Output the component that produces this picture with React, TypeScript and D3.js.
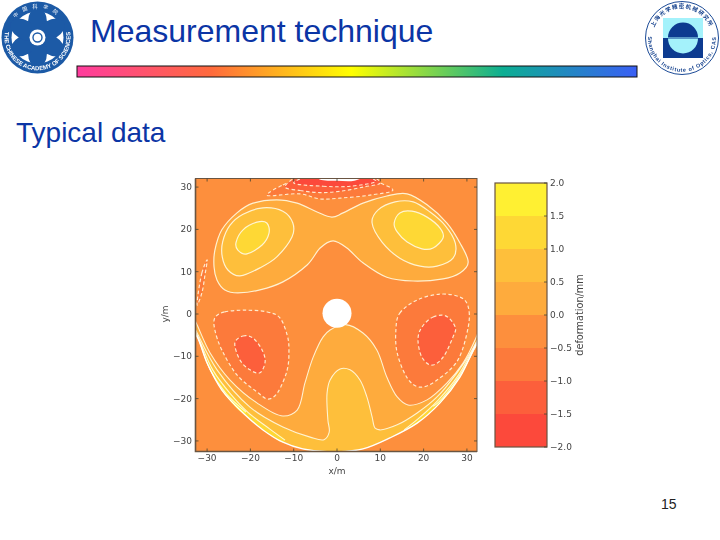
import React from 'react';
import * as d3 from 'd3';

type Pt = [number, number];

// colour bar levels, low to high
const levels = [-2, -1.5, -1, -0.5, 0, 0.5, 1, 1.5, 2];
const bandColors = ['#fc4a3a', '#fc5f3a', '#fc7a3a', '#fd8f3c', '#feab3c', '#febf3a', '#fed835', '#fff030'];
const axisTicks = [-30, -20, -10, 0, 10, 20, 30];
const barTicks = ['-2.0', '-1.5', '-1.0', '-0.5', '0.0', '0.5', '1.0', '1.5', '2.0'];

// contours in data units (metres)
const upperZero: Pt[] = [[-28.4, 11.1], [-27.7, 8], [-25.9, 5.7], [-22.9, 5], [-17.8, 5.7], [-12.5, 7.6], [-6.9, 11.6], [-3.9, 15.6], [-0.9, 17.3], [2.3, 15.6], [6, 12.1], [11.5, 8.7], [17.6, 7.8], [24.5, 8.3], [28.4, 9.7], [30.3, 12.3], [28.4, 16.8], [25.4, 21.5], [20.8, 25.8], [16.2, 28.4], [11.5, 27.9], [6, 26.2], [1.4, 23.9], [-1.2, 22.9], [-4.6, 24.1], [-9.2, 26.2], [-13.9, 27], [-19.4, 26.2], [-23.1, 23.9], [-26.6, 19.9], [-28.2, 15.1]];
const leftHalf: Pt[] = [[-26.5, 13.5], [-26.4, 17.1], [-24.7, 21], [-21.7, 23.6], [-17.1, 25.1], [-12.5, 24.3], [-10.2, 21.5], [-10.4, 18.2], [-13.9, 13.5], [-17.8, 10.9], [-22.4, 9], [-25.2, 10.4]];
const leftOne: Pt[] = [[-23.3, 17], [-21.7, 19.9], [-18.5, 21.7], [-16.2, 21.5], [-15.7, 19.1], [-17.3, 16.3], [-20.8, 14.2], [-22.9, 15.1]];
const rightHalf: Pt[] = [[8.1, 21.5], [9.5, 24.6], [13.4, 26.5], [17.6, 26.5], [21.5, 24.1], [24.9, 21], [27.3, 16.8], [26.8, 13.2], [23.1, 11.3], [19.2, 11.3], [14.5, 13.2], [10.4, 17]];
const rightOne: Pt[] = [[13.2, 21.5], [14.5, 23.9], [17.3, 24.3], [20.8, 22.9], [23.8, 20.3], [24.5, 18], [22.2, 15.6], [19.6, 15.4], [16.2, 17], [13.9, 19.4]];

const lowerZero: Pt[] = [[-33.5, 0], [-32.3, -2.6], [-29.3, -9.2], [-24.7, -15.6], [-18.5, -21], [-12.5, -24.1], [-9.2, -22.7], [-7.4, -16.3], [-5.5, -10.2], [-3.2, -5.4], [-1.6, -3.8], [2, -2.5], [6, -4.5], [9.2, -8.5], [11.5, -14.9], [13.9, -19.6], [16.4, -21.5], [20.8, -20.3], [25.4, -16.3], [29.1, -11.6], [31.9, -6.1], [33.2, -2.5]];
const lowerHalf: Pt[] = [[-33.5, -2], [-32.3, -4.5], [-27.7, -13.2], [-20.1, -22], [-12.5, -26.7], [-6.2, -29.1], [-3, -29.7], [-1.8, -27.9], [-2.1, -25.1], [-2.3, -18.7], [-1.6, -15.6], [0.7, -13], [3, -13.2], [5.3, -15.6], [6.9, -19.6], [8.1, -24.3], [8.8, -27], [9.9, -27.4], [13.9, -26.2], [18.5, -23.4], [23.1, -19.6], [27.7, -13.9], [31.2, -8.5], [33.2, -4.5]];
const oneLeft: Pt[] = [[-33.5, -3], [-32.3, -5], [-28.7, -13.2], [-24.5, -19], [-20.5, -23.3], [-15.5, -27.2], [-12, -29.8]];
const oneRight: Pt[] = [[15.5, -27.4], [18.7, -24.8], [23.3, -20.4], [28, -14.5], [31.8, -7.5], [33.2, -5]];
const onePointFiveLeft: Pt[] = [[-33.5, -3.6], [-32.3, -5.2], [-29.4, -13], [-25.6, -18.8], [-21, -23.2]];
const onePointFiveRight: Pt[] = [[22.2, -21.8], [23.6, -20.7], [28.2, -14.7], [32, -7.8], [33.2, -5.6]];
const diskEdgeLeft: Pt[] = [[-33.5, -4], [-32.3, -5.4], [-30, -11.6], [-26.6, -18], [-21.7, -23.4], [-17.1, -27.4], [-12.5, -30.3], [-7.9, -31.9], [-1.6, -32.6]];
const diskEdgeRight: Pt[] = [[0, -32.6], [6, -31.9], [12.2, -29.3], [18.5, -25.8], [23.8, -21], [28.4, -14.9], [32.3, -6.9], [33.2, -5.8]];

const leftLobe: Pt[] = [[-28.2, -0.9], [-25.9, 0.5], [-21.2, 0.9], [-16.2, 0.5], [-13.2, -0.9], [-11.5, -5], [-11.1, -8.5], [-11.5, -13.2], [-13.6, -18.4], [-15.9, -20.1], [-18.5, -18.4], [-23.1, -14.4], [-26.6, -8.5], [-28.2, -3.8]];
const leftCore: Pt[] = [[-23.6, -6.9], [-21.7, -5.2], [-19.4, -5.7], [-17.3, -8.5], [-16.6, -11.3], [-17.8, -13.9], [-20.1, -13.2], [-22.4, -10.9]];
const rightLobe: Pt[] = [[13.6, -3.8], [14.5, 0.2], [18.5, 3.3], [23.8, 4.7], [28.4, 4], [30.3, 1.7], [30.3, -3.1], [27.9, -10.9], [23.1, -15.6], [19.2, -17.3], [16.2, -15.1], [13.9, -9.2]];
const rightCore: Pt[] = [[19.6, -3.1], [22.2, -0.7], [25.2, -0.5], [27.3, -3.1], [26.8, -5.4], [24.5, -10.2], [21.9, -12.1], [19.6, -10.2], [18.7, -6.1]];
const sideLens: Pt[] = [[-32.3, 2.1], [-31.2, 9.7], [-30, 12.8], [-30.5, 9.2], [-31.2, 5]];

const capOuter: Pt[] = [[-16.2, 28.1], [-12.5, 30.5], [-8.5, 31.9], [-5.5, 33], [5.3, 33], [9.9, 31], [12.9, 29.3], [7.6, 28.1], [0.7, 27.4], [-3.9, 27.2], [-8.5, 28.4]];
const capMiddle: Pt[] = [[-12, 30], [-8.5, 29.2], [-4, 28.7], [0.7, 29], [6, 30], [10, 31], [7, 33], [-8, 33]];
const capInner: Pt[] = [[-10, 31], [-3.2, 30.2], [3, 30.2], [9, 31.4], [5, 33], [-5, 33]];
const capHole: Pt[] = [[-5.5, 33], [-4, 31.8], [0, 31.5], [4, 31.5], [7.3, 33]];

const holeCenter: Pt = [0, 0.2];
const holeRadius = 3.35;

const plot = { left: 195.5, right: 477, top: 178.5, bottom: 451.5 };
const x = d3.scaleLinear().domain([-32.68, 32.33]).range([plot.left, plot.right]);
const y = d3.scaleLinear().domain([-32.5, 32.03]).range([plot.bottom, plot.top]);
const bar = d3.scaleLinear().domain([-2, 2]).range([447, 183]);

const lineGen = d3.line<Pt>().x(d => x(d[0])).y(d => y(d[1]));
const closed = (pts: Pt[]) => lineGen.curve(d3.curveCatmullRomClosed.alpha(0.5))(pts) || '';
const smooth = (pts: Pt[]) => lineGen.curve(d3.curveCatmullRomClosed.alpha(0))(pts) || '';
const open = (pts: Pt[]) => lineGen.curve(d3.curveCatmullRom.alpha(0.5))(pts) || '';

const colorOf = d3.scaleThreshold<number, string>().domain(levels.slice(1, -1)).range(bandColors);
const minus = (v: string | number) => String(v).replace('-', '\u2212');

const SOLID = 'rgba(255,250,225,0.9)';
const DASHED = 'rgba(255,240,215,0.95)';
const tickText = { fontFamily: 'DejaVu Sans', fontSize: 9, fill: '#444' };

const petals = d3.range(6).map(i => i * 60);
const edgeBack = [...diskEdgeRight].reverse().concat([...diskEdgeLeft].reverse());

const App: React.FC = () => (
  <svg width={720} height={540} style={{ position: 'absolute', left: 0, top: 0, display: 'block' }}>
    <defs>
      <linearGradient id="rule" x1="0" x2="1" y1="0" y2="0">
        <stop offset="0" stopColor="#ff3c9e" />
        <stop offset="0.24" stopColor="#ff6a3c" />
        <stop offset="0.49" stopColor="#ffff00" />
        <stop offset="0.76" stopColor="#0cae92" />
        <stop offset="1" stopColor="#3a5ff5" />
      </linearGradient>
      <clipPath id="plot">
        <rect x={plot.left} y={plot.top} width={plot.right - plot.left} height={plot.bottom - plot.top} />
      </clipPath>
      <filter id="soft" x="-5%" y="-5%" width="110%" height="110%">
        <feGaussianBlur stdDeviation="0.35" />
      </filter>
      <path id="logoBottom" d="M 5.1 31 A 33 33 0 1 0 69.9 31" fill="none" />
      <path id="logoTop" d="M 9 30 A 29.5 29.5 0 0 1 66 30" fill="none" />
      <path id="sealBottom" d="M 648.5 32 A 34 34 0 1 0 715.5 32" fill="none" />
      <path id="sealTop" d="M 654 28 A 29.7 29.7 0 0 1 710 28" fill="none" />
    </defs>

    {/* slide header */}
    <text x={90} y={42} fontFamily="Liberation Sans" fontSize={32} fill="#0b35a5">Measurement technique</text>
    <rect x={77} y={66} width={560} height={11} fill="url(#rule)" stroke="#111" strokeWidth={1} />
    <text x={16} y={142} fontFamily="Liberation Sans" fontSize={28} fill="#0b35a5">Typical data</text>
    <text x={661} y={509} fontFamily="Liberation Sans" fontSize={14} fill="#222">15</text>

    {/* academy logo */}
    <g filter="url(#soft)">
      <circle cx={37.5} cy={37.5} r={36} fill="#1c5aa6" />
      <circle cx={37.5} cy={37.5} r={26} fill="#fff" />
      {petals.map(a => (
        <ellipse key={a} cx={37.5} cy={22} rx={9.5} ry={15} fill="#1c5aa6" transform={`rotate(${a} 37.5 37.5)`} />
      ))}
      <circle cx={37.5} cy={37.5} r={8} fill="#fff" />
      <circle cx={37.5} cy={37.5} r={4.5} fill="none" stroke="#1c5aa6" strokeWidth={1.4} />
      <text fontFamily="Liberation Sans" fontWeight="bold" fontSize={6} fill="#fff">
        <textPath href="#logoBottom" startOffset="50%" textAnchor="middle">THE CHINESE ACADEMY OF SCIENCES</textPath>
      </text>
      <text fontFamily="Noto Sans CJK SC" fontSize={5} fill="#fff" letterSpacing={5}>
        <textPath href="#logoTop" startOffset="50%" textAnchor="middle">中国科学院</textPath>
      </text>
    </g>

    {/* institute seal */}
    <g filter="url(#soft)">
      <circle cx={682} cy={38} r={36.5} fill="#fff" stroke="#1b4a96" strokeWidth={1} />
      <rect x={663} y={18} width={40} height={20} fill="#a4f2fb" />
      <rect x={663} y={38} width={40} height={20} fill="#0c3a90" />
      <path d="M 668 37.5 A 15 15 0 0 1 698 37.5 Z" fill="#0c3a90" />
      <path d="M 668 38.5 A 15 15 0 0 0 698 38.5 Z" fill="#a4f2fb" />
      <text fontFamily="Noto Sans CJK SC" fontWeight="bold" fontSize={5.5} fill="#123f8c" letterSpacing={1}>
        <textPath href="#sealTop" startOffset="50%" textAnchor="middle">上海光学精密机械研究所</textPath>
      </text>
      <text fontFamily="Liberation Sans" fontWeight="bold" fontSize={5.4} fill="#123f8c" letterSpacing={0.7}>
        <textPath href="#sealBottom" startOffset="50%" textAnchor="middle">Shanghai Institute of Optics, CAS</textPath>
      </text>
    </g>

    {/* contour map */}
    <g filter="url(#soft)">
      <g clipPath="url(#plot)">
        <rect x={plot.left} y={plot.top} width={plot.right - plot.left} height={plot.bottom - plot.top} fill={colorOf(-0.25)} />
        <path d={smooth(upperZero)} fill={colorOf(0.25)} stroke={SOLID} strokeWidth={1.2} />
        <path d={smooth(leftHalf)} fill={colorOf(0.75)} stroke={SOLID} strokeWidth={1.2} />
        <path d={smooth(leftOne)} fill={colorOf(1.25)} stroke={SOLID} strokeWidth={1.2} />
        <path d={smooth(rightHalf)} fill={colorOf(0.75)} stroke={SOLID} strokeWidth={1.2} />
        <path d={smooth(rightOne)} fill={colorOf(1.25)} stroke={SOLID} strokeWidth={1.2} />

        <path d={closed([...lowerZero, ...edgeBack])} fill={colorOf(0.25)} />
        <path d={closed([...lowerHalf, ...edgeBack])} fill={colorOf(0.75)} />
        <path d={closed([...oneLeft, ...[...diskEdgeLeft].reverse().filter(p => p[0] < -12.4)])} fill={colorOf(1.25)} />
        <path d={closed([...oneRight, ...[...diskEdgeRight].reverse().filter(p => p[0] > 18)])} fill={colorOf(1.25)} />
        <path d={closed([...onePointFiveLeft, ...[...diskEdgeLeft].reverse().filter(p => p[0] < -21)])} fill={colorOf(1.75)} />
        <path d={closed([...onePointFiveRight, ...[...diskEdgeRight].reverse().filter(p => p[0] > 23)])} fill={colorOf(1.75)} />
        {[lowerZero, lowerHalf, oneLeft, oneRight, onePointFiveLeft, onePointFiveRight].map((c, i) => (
          <path key={i} d={open(c)} fill="none" stroke={SOLID} strokeWidth={1.1} />
        ))}
        {[diskEdgeLeft, diskEdgeRight].map((c, i) => (
          <path key={i} d={open(c)} fill="none" stroke="#fff" strokeWidth={1.3} />
        ))}

        {[leftLobe, rightLobe].map((c, i) => (
          <path key={i} d={smooth(c)} fill={colorOf(-0.75)} stroke={DASHED} strokeWidth={1.2} strokeDasharray="3.5 2.5" />
        ))}
        {[leftCore, rightCore].map((c, i) => (
          <path key={i} d={smooth(c)} fill={colorOf(-1.25)} stroke={DASHED} strokeWidth={1.2} strokeDasharray="3.5 2.5" />
        ))}
        <path d={closed(sideLens)} fill={colorOf(-0.75)} stroke={DASHED} strokeWidth={1.2} strokeDasharray="3.5 2.5" />

        <path d={closed(capOuter)} fill={colorOf(-0.75)} stroke={DASHED} strokeWidth={1.1} strokeDasharray="3.5 2.5" />
        <path d={closed(capMiddle)} fill={colorOf(-1.25)} stroke={DASHED} strokeWidth={1.1} strokeDasharray="3.5 2.5" />
        <path d={closed(capInner)} fill={colorOf(-1.75)} stroke={DASHED} strokeWidth={1.1} strokeDasharray="3.5 2.5" />
        <path d={closed(capHole)} fill="#fff" />

        <circle cx={x(holeCenter[0])} cy={y(holeCenter[1])} r={x(holeRadius) - x(0)} fill="#fff" />
      </g>

      {/* frame and axes */}
      <rect x={plot.left} y={plot.top} width={plot.right - plot.left} height={plot.bottom - plot.top} fill="none" stroke="#6a5442" strokeWidth={1} />
      <path d={`M ${plot.left} ${plot.top} V ${plot.bottom} H ${plot.right}`} fill="none" stroke="#6a5442" strokeWidth={1.6} />
      {axisTicks.map(t => (
        <g key={t}>
          <line x1={x(t)} x2={x(t)} y1={plot.bottom} y2={plot.bottom - 3} stroke="#443" strokeWidth={0.8} />
          <line x1={x(t)} x2={x(t)} y1={plot.top} y2={plot.top + 3} stroke="#443" strokeWidth={0.8} />
          <line x1={plot.left} x2={plot.left + 3} y1={y(t)} y2={y(t)} stroke="#443" strokeWidth={0.8} />
          <line x1={plot.right} x2={plot.right - 3} y1={y(t)} y2={y(t)} stroke="#443" strokeWidth={0.8} />
          <text x={x(t)} y={461} textAnchor="middle" {...tickText}>{minus(t)}</text>
          <text x={192} y={y(t) + 3} textAnchor="end" {...tickText}>{minus(t)}</text>
        </g>
      ))}
      <text x={337} y={474} textAnchor="middle" {...tickText}>x/m</text>
      <text transform="translate(168 314) rotate(-90)" textAnchor="middle" {...tickText}>y/m</text>

      {/* colour bar */}
      {d3.pairs(levels).map(([lo, hi], i) => (
        <rect key={lo} x={495} y={bar(hi)} width={52} height={bar(lo) - bar(hi)} fill={bandColors[i]} />
      ))}
      <rect x={495} y={bar(2)} width={52} height={bar(-2) - bar(2)} fill="none" stroke="#6a5442" strokeWidth={1.2} />
      {barTicks.map(t => (
        <g key={t}>
          <line x1={544} x2={547} y1={bar(+t)} y2={bar(+t)} stroke="#443" strokeWidth={0.8} />
          <text x={550} y={bar(+t) + 3} {...tickText}>{minus(t)}</text>
        </g>
      ))}
      <text transform="translate(583 315) rotate(-90)" textAnchor="middle" {...tickText} fontSize={9.7}>deformation/mm</text>
    </g>
  </svg>
);

export default App;
